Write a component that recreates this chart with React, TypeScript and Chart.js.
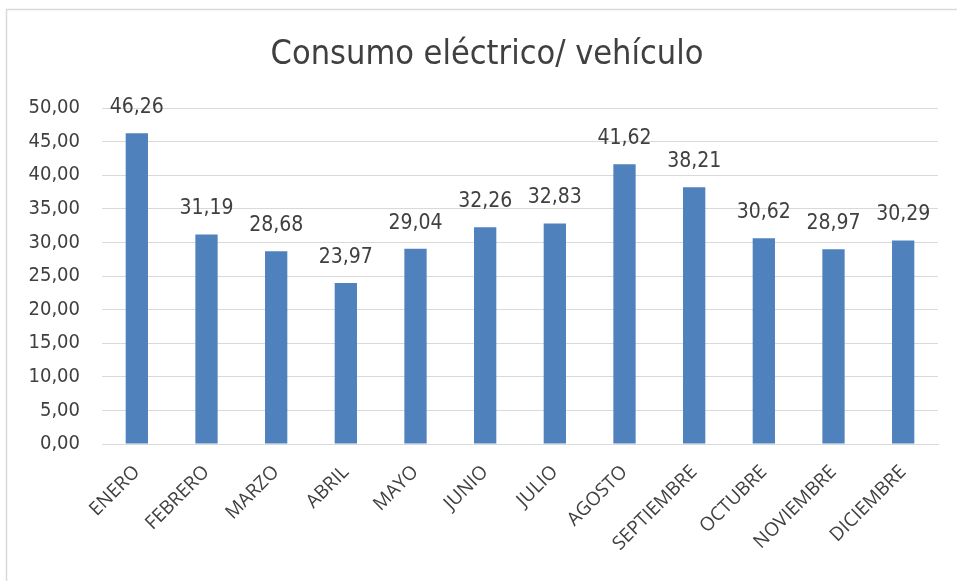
import React, { useEffect, useRef } from "react";
import { Chart, registerables } from "chart.js";
Chart.register(...registerables);

const TITLE = "Consumo eléctrico/ vehículo";
const months = ["ENERO","FEBRERO","MARZO","ABRIL","MAYO","JUNIO","JULIO","AGOSTO","SEPTIEMBRE","OCTUBRE","NOVIEMBRE","DICIEMBRE"];
const values = [46.26, 31.19, 28.68, 23.97, 29.04, 32.26, 32.83, 41.62, 38.21, 30.62, 28.97, 30.29];
const yMin = 0;
const yMax = 50;
const yStep = 5;

const NARROW = "'Liberation Sans Narrow', 'Arial Narrow', 'DejaVu Sans Condensed', sans-serif";
const fmt = (v: number) => v.toFixed(2).replace(".", ",");

const decor = {
  id: "decor",
  beforeDraw(chart: any) {
    const ctx = chart.ctx;
    ctx.save();
    ctx.fillStyle = "#ffffff";
    ctx.fillRect(0, 0, chart.width, chart.height);
    ctx.strokeStyle = "#d9d9d9";
    ctx.lineWidth = 1.5;
    ctx.beginPath();
    ctx.moveTo(957, 9.5);
    ctx.lineTo(6.5, 9.5);
    ctx.lineTo(6.5, 581);
    ctx.stroke();
    ctx.fillStyle = "#404040";
    ctx.font = `300 34px ${NARROW}`;
    ctx.textAlign = "center";
    ctx.textBaseline = "middle";
    ctx.fillText(TITLE, 487, 55);
    ctx.restore();
  },
  afterDatasetsDraw(chart: any) {
    const ctx = chart.ctx;
    const meta = chart.getDatasetMeta(0);
    ctx.save();
    ctx.fillStyle = "#404040";
    ctx.font = `21px ${NARROW}`;
    ctx.textAlign = "center";
    ctx.textBaseline = "alphabetic";
    meta.data.forEach((bar: any, i: number) => {
      ctx.fillText(fmt(values[i]), bar.x, bar.y - 20);
    });
    ctx.restore();
  },
};

export default function App() {
  const ref = useRef<HTMLCanvasElement>(null);
  useEffect(() => {
    document.body.style.margin = "0";
    const chart = new Chart(ref.current!, {
      type: "bar",
      data: {
        labels: months,
        datasets: [{ data: values, backgroundColor: "#4f81bd", barPercentage: 0.32, categoryPercentage: 1 }],
      },
      options: {
        animation: false,
        responsive: false,
        layout: { padding: { top: 108, right: 19, left: 0, bottom: 0 } },
        plugins: { legend: { display: false }, title: { display: false }, tooltip: { enabled: false } },
        scales: {
          x: {
            grid: { display: false, drawTicks: false },
            border: { display: true, color: "#d9d9d9" },
            ticks: {
              color: "#404040",
              font: { family: "'Open Sans', 'Noto Sans', sans-serif", size: 19 },
              maxRotation: 45,
              minRotation: 45,
              padding: 17,
              autoSkip: false,
            },
            afterFit(scale: any) { scale.height = 137; },
          },
          y: {
            min: yMin,
            max: yMax,
            grid: { color: "#d9d9d9", drawTicks: false },
            border: { display: false },
            ticks: {
              stepSize: yStep,
              color: "#404040",
              font: { family: NARROW, size: 20 },
              padding: 22,
              callback: (v: any) => fmt(Number(v)),
            },
            afterFit(scale: any) { scale.width = 102; },
          },
        },
      },
      plugins: [decor],
    });
    return () => chart.destroy();
  }, []);
  return <canvas ref={ref} width={957} height={581} style={{ display: "block" }} />;
}
